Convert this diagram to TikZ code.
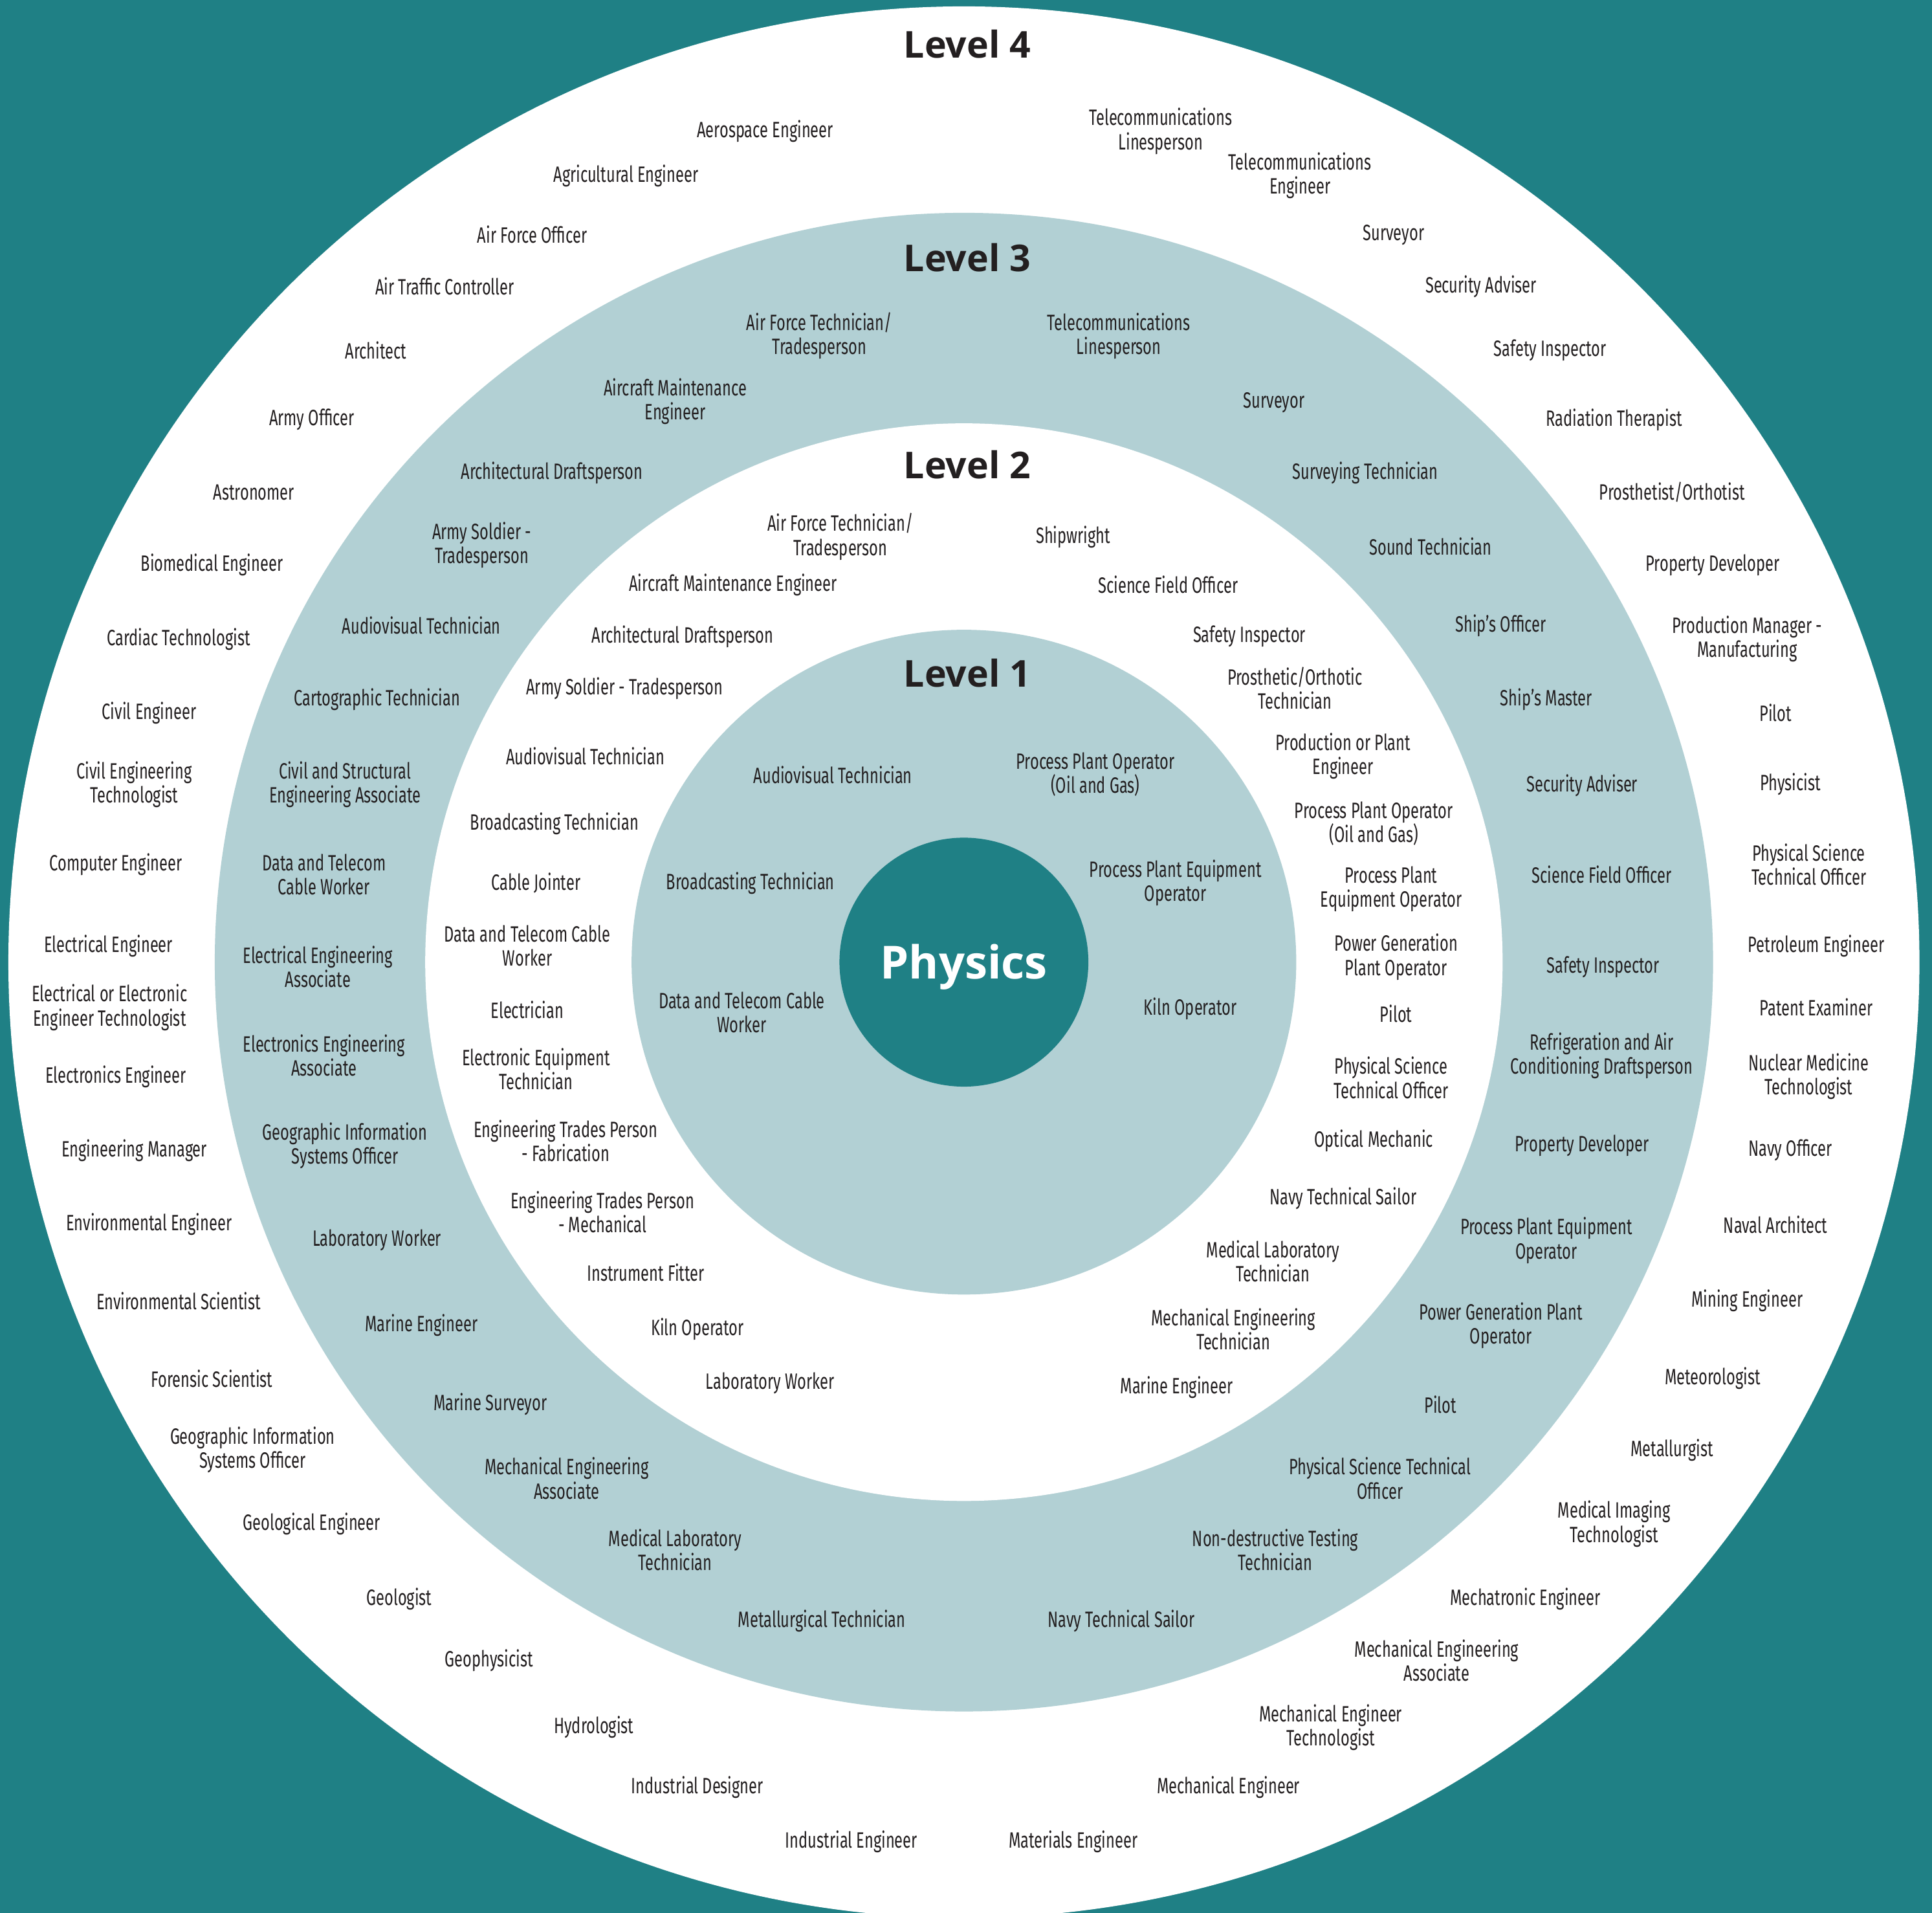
\documentclass[tikz,border=0pt]{standalone}
\usepackage{fontspec}
\setmainfont{Fira Sans}
\newfontfamily\lblfont[FakeStretch=0.69]{Fira Sans}
\newfontfamily\headfont{Open Sans}
\definecolor{physteal}{RGB}{31,128,133}
\definecolor{ringblue}{RGB}{178,208,212}
\definecolor{ink}{RGB}{35,31,32}

\begin{document}
\begin{tikzpicture}[
    x=1pt,y=-1pt,
    lbl/.style={align=center,inner sep=0pt,yshift=-1.5pt,text=ink,font=\lblfont\fontsize{18}{19.5}\selectfont},
    lvl/.style={inner sep=0pt,text=ink,font=\headfont\bfseries\fontsize{30}{36}\selectfont},
    core/.style={inner sep=0pt,yshift=-4pt,text=white,font=\headfont\bfseries\fontsize{37}{44}\selectfont}
]
\useasboundingbox (0,0) rectangle (1568,1552);
\fill[physteal] (0,0) rectangle (1568,1552);

% rings
\coordinate (C) at (782.3,780.7);
\fill[white]    (C) circle[radius=775.5pt];
\fill[ringblue] (C) circle[radius=608pt];
\fill[white]    (C) circle[radius=437.2pt];
\fill[ringblue] (C) circle[radius=269.7pt];
\fill[physteal] (C) circle[radius=101pt];
\node[core] (phys) at (C) {Physics};

% level headings
\node[lvl] (lv4) at (785,36)  {Level 4};
\node[lvl] (lv3) at (785,209) {Level 3};
\node[lvl] (lv2) at (785,377) {Level 2};
\node[lvl] (lv1) at (785,546) {Level 1};

% level 4
\foreach [count=\i] \x/\y/\t in {
  621/105/Aerospace Engineer, 508/141/Agricultural Engineer, 432/189/Air Force Officer,
  361/231/Air Traffic Controller, 305/283/Architect, 253/339/Army Officer,
  206/398/Astronomer, 172/457/Biomedical Engineer, 145/517/Cardiac Technologist,
  121/577/Civil Engineer, 109/635/{Civil Engineering\\Technologist}, 94/700/Computer Engineer,
  88/766/Electrical Engineer, 89/816/{Electrical or Electronic\\Engineer Technologist},
  94/872/Electronics Engineer, 109/932/Engineering Manager, 121/992/Environmental Engineer,
  145/1054/Environmental Scientist, 172/1117/Forensic Scientist,
  205/1175/{Geographic Information\\Systems Officer}, 253/1235/Geological Engineer,
  324/1296/Geologist, 397/1346/Geophysicist, 482/1400/Hydrologist,
  566/1449/Industrial Designer, 691/1493/Industrial Engineer, 871/1493/Materials Engineer,
  997/1449/Mechanical Engineer, 1080/1400/{Mechanical Engineer\\Technologist},
  1166/1346/{Mechanical Engineering\\Associate}, 1238/1296/Mechatronic Engineer,
  1310/1235/{Medical Imaging\\Technologist}, 1357/1175/Metallurgist, 1390/1117/Meteorologist,
  1418/1054/Mining Engineer, 1441/992/Naval Architect, 1453/932/Navy Officer,
  1468/872/{Nuclear Medicine\\Technologist}, 1474/816/Patent Examiner,
  1474/766/Petroleum Engineer, 1468/700/{Physical Science\\Technical Officer},
  1453/635/Physicist, 1441/577/Pilot, 1418/517/{Production Manager -\\Manufacturing},
  1390/457/Property Developer, 1357/398/{Prosthetist/Orthotist}, 1310/339/Radiation Therapist,
  1258/283/Safety Inspector, 1202/231/Security Adviser, 1131/189/Surveyor,
  1055/141/{Telecommunications\\Engineer}, 942/105/{Telecommunications\\Linesperson}}
  \node[lbl] (four-\i) at (\x,\y) {\t};

% level 3
\foreach [count=\i] \x/\y/\t in {
  665/271/{Air Force Technician/\\Tradesperson}, 548/324/{Aircraft Maintenance\\Engineer},
  448/382/Architectural Draftsperson, 391/441/{Army Soldier -\\Tradesperson},
  342/506/Audiovisual Technician, 306/566/Cartographic Technician,
  280/635/{Civil and Structural\\Engineering Associate}, 263/708/{Data and Telecom\\Cable Worker},
  258/783/{Electrical Engineering\\Associate}, 263/855/{Electronics Engineering\\Associate},
  280/928/{Geographic Information\\Systems Officer}, 306/1005/Laboratory Worker,
  342/1074/Marine Engineer, 398/1138/Marine Surveyor,
  460/1198/{Mechanical Engineering\\Associate}, 548/1256/{Medical Laboratory\\Technician},
  667/1314/Metallurgical Technician, 910/1314/Navy Technical Sailor,
  1035/1256/{Non-destructive Testing\\Technician}, 1120/1198/{Physical Science Technical\\Officer},
  1169/1138/Pilot, 1218/1074/{Power Generation Plant\\Operator},
  1255/1005/{Process Plant Equipment\\Operator}, 1284/928/Property Developer,
  1300/855/{Refrigeration and Air\\Conditioning Draftsperson}, 1301/783/Safety Inspector,
  1300/708/Science Field Officer, 1284/636/Security Adviser, 1255/566/Ship’s Master,
  1218/506/Ship’s Officer, 1161/442/Sound Technician, 1108/382/Surveying Technician,
  1034/325/Surveyor, 908/271/{Telecommunications\\Linesperson}}
  \node[lbl] (three-\i) at (\x,\y) {\t};

% level 2
\foreach [count=\i] \x/\y/\t in {
  682/434/{Air Force Technician/\\Tradesperson}, 595/473/Aircraft Maintenance Engineer,
  554/515/Architectural Draftsperson, 507/557/Army Soldier - Tradesperson,
  475/612/Audiovisual Technician, 450/667/Broadcasting Technician, 435/715/Cable Jointer,
  428/766/{Data and Telecom Cable\\Worker}, 428/818/Electrician,
  435/866/{Electronic Equipment\\Technician}, 459/924/{Engineering Trades Person\\- Fabrication},
  489/982/{Engineering Trades Person\\- Mechanical}, 524/1031/Instrument Fitter,
  566/1077/Kiln Operator, 625/1121/Laboratory Worker, 955/1124/Marine Engineer,
  1001/1077/{Mechanical Engineering\\Technician}, 1033/1022/{Medical Laboratory\\Technician},
  1090/971/Navy Technical Sailor, 1115/924/Optical Mechanic,
  1129/873/{Physical Science\\Technical Officer}, 1133/821/Pilot,
  1133/775/{Power Generation\\Plant Operator}, 1129/720/{Process Plant\\Equipment Operator},
  1115/667/{Process Plant Operator\\(Oil and Gas)}, 1090/612/{Production or Plant\\Engineer},
  1051/557/{Prosthetic/Orthotic\\Technician}, 1014/515/Safety Inspector,
  948/473/Science Field Officer, 871/434/Shipwright}
  \node[lbl] (two-\i) at (\x,\y) {\t};

% level 1
\foreach [count=\i] \x/\y/\t in {
  676/627/Audiovisual Technician, 889/627/{Process Plant Operator\\(Oil and Gas)},
  609/715/Broadcasting Technician, 954/715/{Process Plant Equipment\\Operator},
  602/820/{Data and Telecom Cable\\Worker}, 966/817/Kiln Operator}
  \node[lbl] (one-\i) at (\x,\y) {\t};
\end{tikzpicture}
\end{document}
